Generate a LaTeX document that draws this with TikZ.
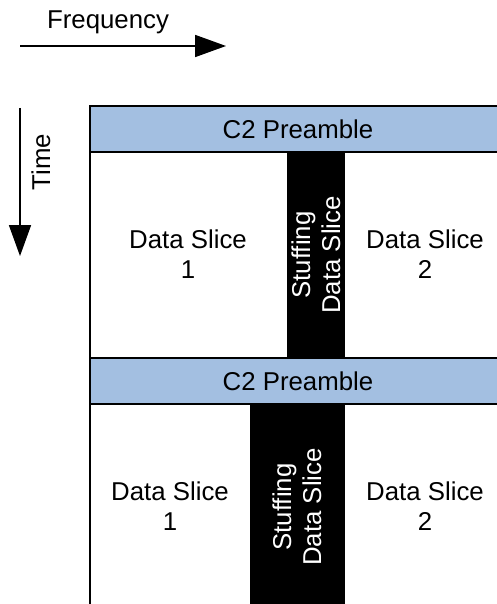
\documentclass[tikz,border=0pt]{standalone}
\usepackage{fontspec}
\setmainfont{Liberation Sans}
\usetikzlibrary{arrows.meta}
\definecolor{preblue}{RGB}{163,191,225}
\tikzset{
  lbl/.style={font=\fontsize{25.8}{30}\selectfont, align=center, inner sep=0pt},
  wlbl/.style={lbl, text=white, rotate=90},
  prebox/.style={fill=preblue, draw=black, line width=1.8pt},
  stuff/.style={fill=black, draw=none},
  axis/.style={line width=1.8pt, -{Triangle[length=31pt,width=22pt]}}
}
\begin{document}
\begin{tikzpicture}[x=1pt,y=-1pt]
\useasboundingbox (0,0) rectangle (497,604);
\fill[white] (0,0) rectangle (497,604);
\begin{scope}
\clip (0,0) rectangle (497,604);
% stuffing columns
\fill[stuff] (287,152) rectangle (345,358);
\fill[stuff] (250,404) rectangle (345,620);
% preambles
\draw[prebox] (90,106) rectangle (520,152);
\draw[prebox] (90,358) rectangle (520,404);
% left edge
\draw[line width=1.8pt] (90,106) -- (90,620);
\end{scope}
% labels
\node[lbl] (p1) at (298,129) {C2 Preamble};
\node[lbl] (p2) at (298,381) {C2 Preamble};
\node[lbl] (d11) at (188,254) {Data Slice\\1};
\node[lbl] (d12) at (425,254) {Data Slice\\2};
\node[lbl] (d21) at (170,506) {Data Slice\\1};
\node[lbl] (d22) at (425,506) {Data Slice\\2};
\node[wlbl] (s1) at (316,255) {Stuffing\\Data Slice};
\node[wlbl] (s2) at (297,507) {Stuffing\\Data Slice};
% axes
\node[lbl] (freq) at (108,22) {Frequency};
\coordinate (f0) at (20,46);
\coordinate (f1) at (226,46);
\draw[axis] (f0) -- (f1);
\node[lbl, rotate=90] (time) at (41,162) {Time};
\coordinate (t0) at (20,108);
\coordinate (t1) at (20,256);
\draw[axis] (t0) -- (t1);
\end{tikzpicture}
\end{document}
